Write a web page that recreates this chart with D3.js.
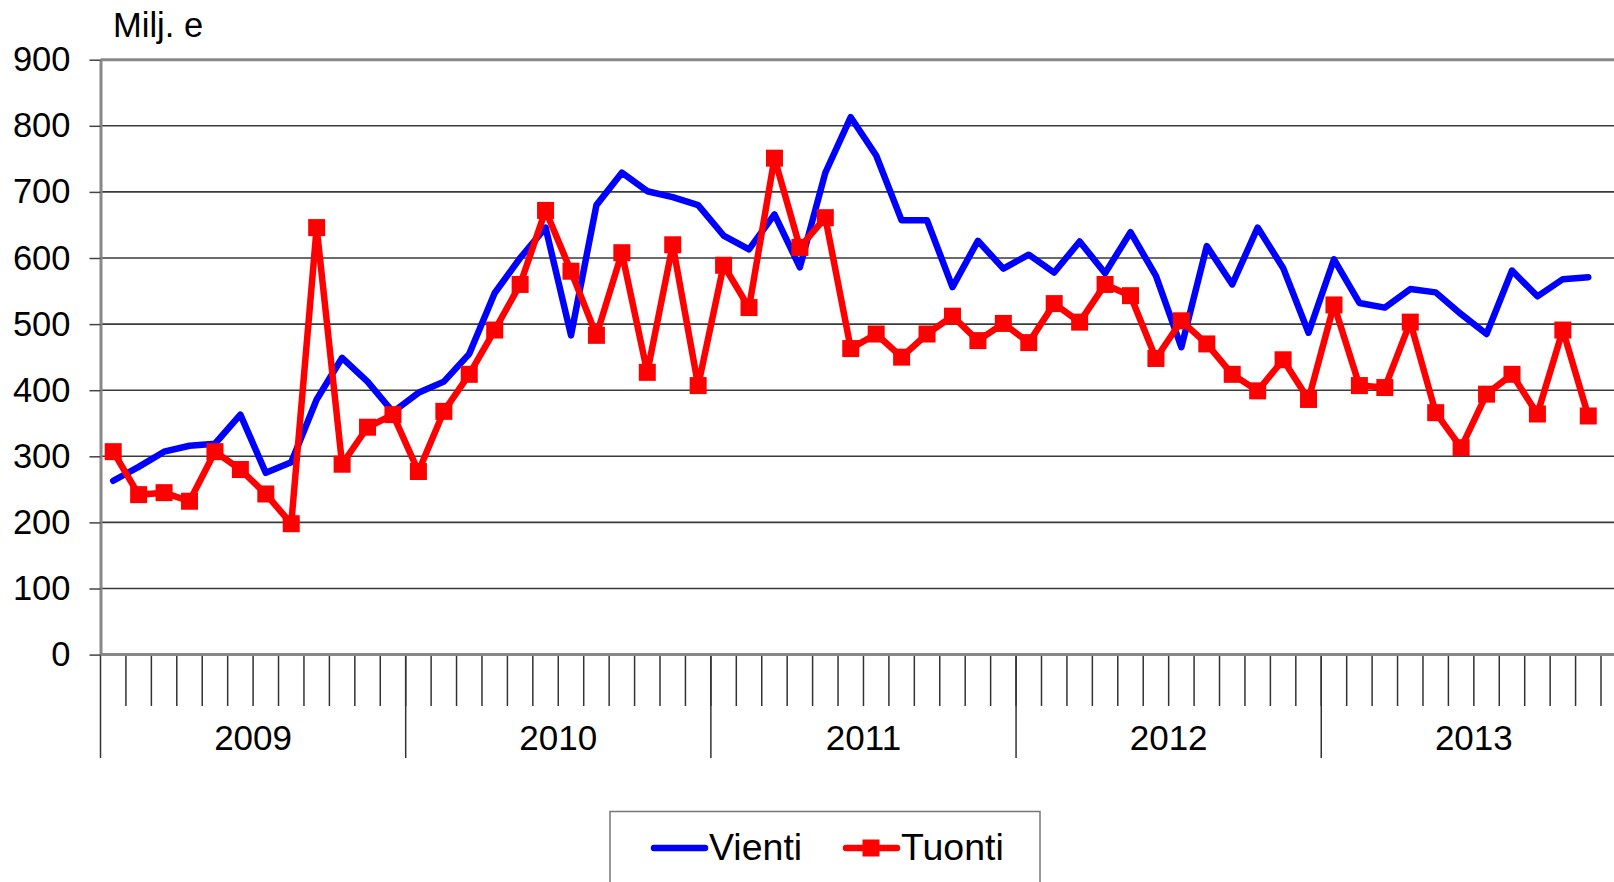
<!DOCTYPE html>
<html>
<head>
<meta charset="utf-8">
<script src="https://cdn.jsdelivr.net/npm/d3@7"></script>
<style>
  body { margin: 0; background: #fff; }
  svg { display: block; }
</style>
</head>
<body>
<script>
// Monthly values, Jan 2009 - Nov 2013 (Milj. e)
const years = ["2009", "2010", "2011", "2012", "2013"];
const monthsInYear = [12, 12, 12, 12, 11];
const yTicks = [0, 100, 200, 300, 400, 500, 600, 700, 800, 900];

const vienti = [
  263, 284, 307, 316, 319, 363, 275, 291, 386, 449, 413, 367,
  396, 413, 455, 547, 600, 646, 483, 680, 729, 701, 692, 680,
  634, 613, 666, 586, 729, 813, 755, 657, 657, 556, 626, 584,
  605, 578, 625, 577, 639, 573, 465, 618, 560, 646, 585, 487,
  598, 532, 525, 553, 548, 515, 485, 581, 542, 568, 571
];
const tuonti = [
  307, 242, 245, 232, 307, 280, 243, 198, 646, 288, 344, 363,
  277, 368, 424, 491, 560, 672, 580, 483, 608, 427, 620, 407,
  589, 525, 751, 616, 661, 463, 485, 450, 485, 512, 475, 501,
  472, 531, 503, 560, 543, 448, 505, 470, 424, 399, 446, 386,
  529, 407, 404, 503, 366, 313, 394, 424, 364, 491, 361
];

const width = 1614;
const height = 882;
const plotLeft = 100.5, plotRight = 1601, plotTop = 59.7, plotBottom = 654.6;
const font = "Arial, 'Liberation Sans', sans-serif";

// month keys like "2009-1"
const months = [];
years.forEach((yr, yi) => {
  for (let m = 1; m <= monthsInYear[yi]; m++) months.push(yr + "-" + m);
});

const x = d3.scaleBand().domain(months).range([plotLeft, plotRight]).padding(0);
const y = d3.scaleLinear().domain([0, 900]).range([plotBottom, plotTop]);
const cx = (i) => x(months[i]) + x.bandwidth() / 2;

const svg = d3
  .create("svg")
  .attr("width", width)
  .attr("height", height)
  .attr("viewBox", [0, 0, width, height]);

// Gridlines
svg
  .append("g")
  .selectAll("line")
  .data(yTicks.filter((d) => d > 0))
  .join("line")
  .attr("x1", plotLeft)
  .attr("x2", width)
  .attr("y1", (d) => y(d))
  .attr("y2", (d) => y(d))
  .attr("stroke", (d) => (d === 900 ? "#888" : "#3a3a3a"))
  .attr("stroke-width", (d) => (d === 900 ? 3 : 1.6));

// Y axis
const yAxis = svg
  .append("g")
  .attr("transform", `translate(${plotLeft},0)`)
  .call(d3.axisLeft(y).tickValues(yTicks).tickSize(11).tickSizeOuter(0));
yAxis.select(".domain").attr("stroke", "#888").attr("stroke-width", 3);
yAxis.selectAll(".tick line").attr("stroke", "#444").attr("stroke-width", 1.5);
yAxis
  .selectAll(".tick text")
  .attr("x", -30)
  .attr("font-family", font)
  .attr("font-size", 34.5)
  .attr("fill", "#000");

// X axis: month ticks and year ticks
const boundaries = d3.range(1, months.length + 1).map((i) =>
  i < months.length ? x(months[i]) : plotRight
);
const yearStarts = [];
let acc = 0;
monthsInYear.forEach((n) => {
  yearStarts.push(acc);
  acc += n;
});

svg
  .append("g")
  .attr("stroke", "#333")
  .attr("stroke-width", 1.5)
  .selectAll("line")
  .data(boundaries)
  .join("line")
  .attr("x1", (d) => d)
  .attr("x2", (d) => d)
  .attr("y1", plotBottom)
  .attr("y2", 706);

svg
  .append("g")
  .attr("stroke", "#333")
  .attr("stroke-width", 1.5)
  .selectAll("line")
  .data(yearStarts)
  .join("line")
  .attr("x1", (d) => x(months[d]))
  .attr("x2", (d) => x(months[d]))
  .attr("y1", plotBottom)
  .attr("y2", 758);

// year labels sit in the middle of a full 12-month span
svg
  .append("g")
  .selectAll("text")
  .data(years)
  .join("text")
  .attr("x", (d, i) => x(months[yearStarts[i]]) + 6 * x.bandwidth())
  .attr("y", 750)
  .attr("text-anchor", "middle")
  .attr("font-family", font)
  .attr("font-size", 35)
  .attr("fill", "#000")
  .text((d) => d);

svg
  .append("line")
  .attr("x1", plotLeft)
  .attr("x2", width)
  .attr("y1", plotBottom)
  .attr("y2", plotBottom)
  .attr("stroke", "#888")
  .attr("stroke-width", 3);

// Unit label
svg
  .append("text")
  .attr("x", 113)
  .attr("y", 37)
  .attr("font-family", font)
  .attr("font-size", 34.5)
  .attr("fill", "#000")
  .text("Milj. e");

// Lines
const line = d3
  .line()
  .x((d, i) => cx(i))
  .y((d) => y(d));

svg
  .append("path")
  .datum(vienti)
  .attr("fill", "none")
  .attr("stroke", "#0000ff")
  .attr("stroke-width", 6.5)
  .attr("stroke-linejoin", "round")
  .attr("stroke-linecap", "round")
  .attr("d", line);

svg
  .append("path")
  .datum(tuonti)
  .attr("fill", "none")
  .attr("stroke", "#ff0000")
  .attr("stroke-width", 6.5)
  .attr("stroke-linejoin", "round")
  .attr("stroke-linecap", "round")
  .attr("d", line);

const ms = 17;
svg
  .append("g")
  .attr("fill", "#ff0000")
  .selectAll("rect")
  .data(tuonti)
  .join("rect")
  .attr("x", (d, i) => cx(i) - ms / 2)
  .attr("y", (d) => y(d) - ms / 2)
  .attr("width", ms)
  .attr("height", ms);

// Legend
const legend = svg.append("g");
legend
  .append("rect")
  .attr("x", 610)
  .attr("y", 811.5)
  .attr("width", 430)
  .attr("height", 100)
  .attr("fill", "#fff")
  .attr("stroke", "#777")
  .attr("stroke-width", 1.5);

legend
  .append("line")
  .attr("x1", 654)
  .attr("x2", 705)
  .attr("y1", 848)
  .attr("y2", 848)
  .attr("stroke", "#0000ff")
  .attr("stroke-width", 6.5)
  .attr("stroke-linecap", "round");
legend
  .append("text")
  .attr("x", 709)
  .attr("y", 860)
  .attr("font-family", font)
  .attr("font-size", 37.5)
  .attr("fill", "#000")
  .text("Vienti");

legend
  .append("line")
  .attr("x1", 846)
  .attr("x2", 897)
  .attr("y1", 848)
  .attr("y2", 848)
  .attr("stroke", "#ff0000")
  .attr("stroke-width", 6.5)
  .attr("stroke-linecap", "round");
legend
  .append("rect")
  .attr("x", 871 - ms / 2)
  .attr("y", 848 - ms / 2)
  .attr("width", ms)
  .attr("height", ms)
  .attr("fill", "#ff0000");
legend
  .append("text")
  .attr("x", 901)
  .attr("y", 860)
  .attr("font-family", font)
  .attr("font-size", 37.5)
  .attr("fill", "#000")
  .text("Tuonti");

d3.select("body").append(() => svg.node());
</script>
</body>
</html>
